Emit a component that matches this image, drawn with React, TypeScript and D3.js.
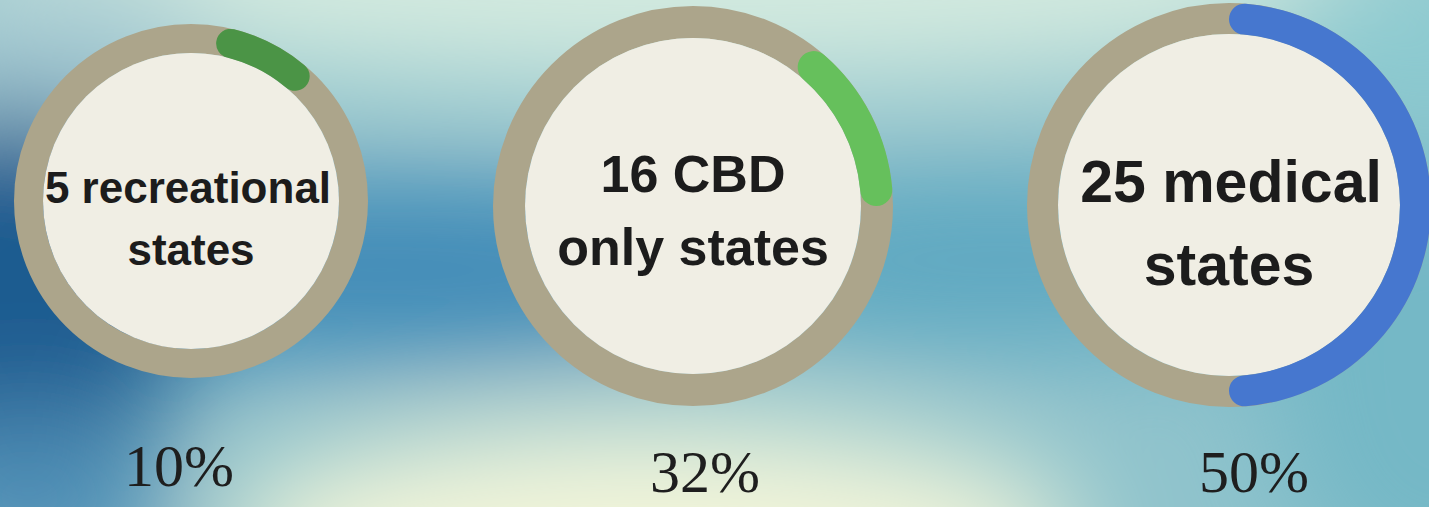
import { useEffect, useRef } from 'react';
import * as d3 from 'd3';

// values
const topLines = ['5 recreational', '16 CBD', '25 medical'];
const bottomLines = ['states', 'only states', 'states'];
const percents = [10, 32, 50];
const arcStartDeg = [9, 36, 0]; // where the coloured arc begins (clockwise from 12 o'clock)
const arcEndDeg = [45, 90, 180];

const arcColors = ['#4b9446', '#66c05c', '#4677cf'];
const ringColor = '#aca58b';
const faceColor = '#f0eee4';

// layout of each ring (position / size only)
const rings = [
  { cx: 191, cy: 201, r: 177, t: 29, fs: 44, l1: 2, l2: 64, tx: -3, px: 179, py: 486 },
  { cx: 693, cy: 206, r: 200, t: 32, fs: 52, l1: -14, l2: 59, tx: 0, px: 705, py: 492 },
  { cx: 1229, cy: 205, r: 202, t: 31, fs: 59, l1: -3, l2: 80, tx: 2, px: 1254, py: 492 },
];

export default function App() {
  const svgRef = useRef<SVGSVGElement>(null);

  useEffect(() => {
    if (!svgRef.current) return;
    document.body.style.margin = '0';

    const width = 1429;
    const height = 507;
    const svg = d3.select(svgRef.current);
    svg.selectAll('*').remove();

    const defs = svg.append('defs');
    const blur = defs.append('filter')
      .attr('id', 'soft')
      .attr('filterUnits', 'userSpaceOnUse')
      .attr('x', -300).attr('y', -300)
      .attr('width', width + 600).attr('height', height + 600);
    blur.append('feGaussianBlur').attr('stdDeviation', 55);

    // blurry backdrop
    svg.append('rect')
      .attr('width', width)
      .attr('height', height)
      .attr('fill', '#8fc3cc');

    const blobs = [
      { cx: 700, cy: -30, rx: 760, ry: 115, c: '#d3eadf' },
      { cx: 60, cy: 60, rx: 160, ry: 90, c: '#a3c9d2' },
      { cx: 380, cy: 270, rx: 460, ry: 90, c: '#3f8ab7' },
      { cx: 1000, cy: 260, rx: 360, ry: 85, c: '#5da7c1' },
      { cx: 10, cy: 300, rx: 180, ry: 190, c: '#1f5c90' },
      { cx: 650, cy: 540, rx: 430, ry: 120, c: '#f1f4d9' },
      { cx: 30, cy: 500, rx: 140, ry: 90, c: '#4f8fb6' },
      { cx: 1440, cy: 380, rx: 170, ry: 220, c: '#74b8c6' },
      { cx: 1420, cy: 40, rx: 160, ry: 90, c: '#8ccad0' },
    ];
    svg.append('g')
      .attr('filter', 'url(#soft)')
      .selectAll('ellipse')
      .data(blobs)
      .join('ellipse')
      .attr('cx', d => d.cx)
      .attr('cy', d => d.cy)
      .attr('rx', d => d.rx)
      .attr('ry', d => d.ry)
      .attr('fill', d => d.c);

    const angle = d3.scaleLinear().domain([0, 360]).range([0, 2 * Math.PI]);

    rings.forEach((ring, i) => {
      const g = svg.append('g').attr('transform', `translate(${ring.cx},${ring.cy})`);

      // tan track
      g.append('circle')
        .attr('r', ring.r - ring.t / 2)
        .attr('fill', 'none')
        .attr('stroke', ringColor)
        .attr('stroke-width', ring.t);

      // face
      g.append('circle')
        .attr('r', ring.r - ring.t)
        .attr('fill', faceColor);

      // coloured portion
      const arc = d3.arc<any>()
        .innerRadius(ring.r - ring.t)
        .outerRadius(ring.r)
        .cornerRadius(ring.t / 2);

      g.append('path')
        .attr('d', arc({ startAngle: angle(arcStartDeg[i]), endAngle: angle(arcEndDeg[i]) }))
        .attr('fill', arcColors[i]);

      const label = g.append('text')
        .attr('text-anchor', 'middle')
        .attr('font-family', '"Liberation Sans", Arial, sans-serif')
        .attr('font-weight', 'bold')
        .attr('font-size', ring.fs)
        .attr('fill', '#1c1c1c');
      label.append('tspan').attr('x', ring.tx).attr('y', ring.l1).text(topLines[i]);
      label.append('tspan').attr('x', 0).attr('y', ring.l2).text(bottomLines[i]);

      svg.append('text')
        .attr('x', ring.px)
        .attr('y', ring.py)
        .attr('text-anchor', 'middle')
        .attr('font-family', '"Liberation Serif", "DejaVu Serif", serif')
        .attr('font-size', 60)
        .attr('fill', '#1e1e1e')
        .text(`${percents[i]}%`);
    });
  }, []);

  return (
    <svg ref={svgRef} width={1429} height={507} style={{ display: 'block' }} />
  );
}
